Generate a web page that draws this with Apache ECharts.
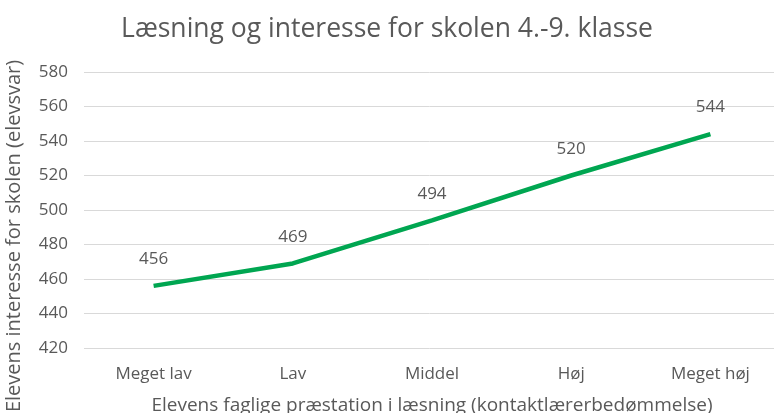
<!DOCTYPE html>
<html>
<head>
<meta charset="utf-8">
<script src="https://cdn.jsdelivr.net/npm/echarts@6/dist/echarts.min.js"></script>
<style>
  html, body { margin: 0; padding: 0; background: #fff; }
  #chart { width: 774px; height: 413px; }
</style>
</head>
<body>
<div id="chart"></div>
<script>
// data
var categories = ['Meget lav', 'Lav', 'Middel', 'Høj', 'Meget høj'];
var values = [456, 469, 494, 520, 544];

var textColor = '#595959';
var font = 'Open Sans';

var myChart = echarts.init(document.getElementById('chart'));

var option = {
    backgroundColor: '#fff',
    title: {
        text: 'Læsning og interesse for skolen 4.-9. klasse',
        left: 'center',
        top: 11,
        textStyle: { color: textColor, fontSize: 26.5, fontWeight: 'normal', fontFamily: font }
    },
    grid: { left: 84, right: -6, top: 72, bottom: 65, containLabel: false, outerBoundsMode: 'none' },
    xAxis: {
        type: 'category',
        data: categories,
        boundaryGap: true,
        name: 'Elevens faglige præstation i læsning (kontaktlærerbedømmelse)',
        nameLocation: 'middle',
        nameGap: 48,
        nameTextStyle: { color: textColor, fontSize: 19, fontFamily: font },
        axisLine: { show: false },
        axisTick: { show: false },
        axisLabel: { color: textColor, fontSize: 17, fontFamily: font, margin: 18 }
    },
    yAxis: {
        type: 'value',
        min: 420,
        max: 580,
        interval: 20,
        name: 'Elevens interesse for skolen (elevsvar)',
        nameLocation: 'middle',
        nameGap: 60,
        nameTextStyle: { color: textColor, fontSize: 20, fontFamily: font, padding: [0, 52, 0, 0] },
        axisLine: { show: false },
        axisTick: { show: false },
        axisLabel: { color: textColor, fontSize: 17, fontFamily: font, margin: 16 },
        splitLine: { lineStyle: { color: '#d9d9d9', width: 1 } }
    },
    series: [{
        type: 'line',
        data: values,
        symbol: 'emptyCircle',
        symbolSize: 0,
        showSymbol: true,
        itemStyle: { color: '#00a651', borderWidth: 0 },
        lineStyle: { color: '#00a651', width: 4.5 },
        label: {
            show: true,
            position: 'top',
            distance: 18,
            color: textColor,
            fontSize: 17,
            fontFamily: font
        }
    }]
};

myChart.setOption(option);
</script>
</body>
</html>
